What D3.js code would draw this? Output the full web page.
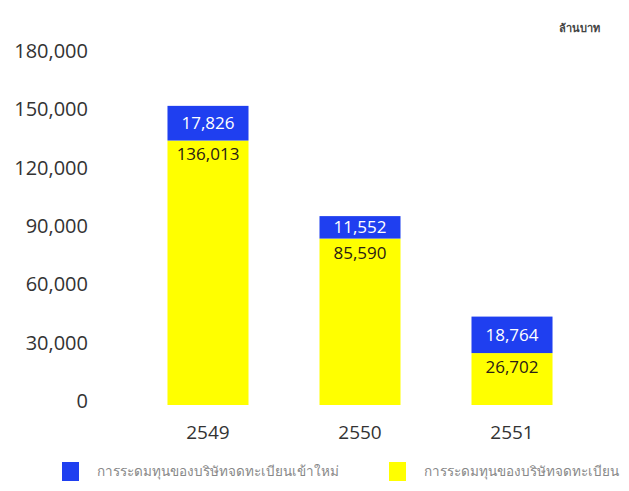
<!DOCTYPE html>
<html><head><meta charset="utf-8">
<script src="https://cdn.jsdelivr.net/npm/d3@7"></script>
<style>
html,body{margin:0;padding:0;background:#fff;}
svg{display:block;font-family:"Open Sans","Noto Sans",sans-serif;}
</style></head>
<body><svg id="c" width="629" height="491"></svg>
<script>
const years = ["2549","2550","2551"];
const listedValues = [136013, 85590, 26702];
const newListedValues = [17826, 11552, 18764];
const yTicks = [0, 30000, 60000, 90000, 120000, 150000, 180000];
const unitLabel = "ล้านบาท";
const legendNew = "การระดมทุนของบริษัทจดทะเบียนเข้าใหม่";
const legendListed = "การระดมทุนของบริษัทจดทะเบียน";

const blue = "#1f3ff0", yellow = "#ffff00";
const svg = d3.select("#c");
const fmt = d3.format(",");

const x = d3.scaleBand().domain(years).range([130, 590]).paddingInner(0.467).paddingOuter(0.2466);
const y = d3.scaleLinear().domain([0, 180000]).range([405, 55]);

// y axis labels
svg.append("g").selectAll("text").data(yTicks).join("text")
  .attr("x", 88).attr("y", d => y(d) - 4).attr("dy", "0.35em")
  .attr("text-anchor", "end").attr("font-size", 20).attr("fill", "#333")
  .text(d => fmt(d));

// yellow segments
svg.append("g").selectAll("rect").data(years).join("rect")
  .attr("x", d => x(d)).attr("width", x.bandwidth())
  .attr("y", (d,i) => y(listedValues[i])).attr("height", (d,i) => y(0) - y(listedValues[i]))
  .attr("fill", yellow);

// blue segments
svg.append("g").selectAll("rect").data(years).join("rect")
  .attr("x", d => x(d)).attr("width", x.bandwidth())
  .attr("y", (d,i) => y(listedValues[i] + newListedValues[i]))
  .attr("height", (d,i) => y(listedValues[i]) - y(listedValues[i] + newListedValues[i]))
  .attr("fill", blue);

// blue labels
svg.append("g").selectAll("text").data(years).join("text")
  .attr("x", d => x(d) + x.bandwidth()/2)
  .attr("y", (d,i) => (y(listedValues[i]) + y(listedValues[i] + newListedValues[i]))/2)
  .attr("dy", "0.35em").attr("text-anchor", "middle").attr("font-size", 17).attr("fill", "#fff")
  .text((d,i) => fmt(newListedValues[i]));

// yellow labels
svg.append("g").selectAll("text").data(years).join("text")
  .attr("x", d => x(d) + x.bandwidth()/2)
  .attr("y", (d,i) => y(listedValues[i]) + 14)
  .attr("dy", "0.35em").attr("text-anchor", "middle").attr("font-size", 17).attr("fill", "#2a2015")
  .text((d,i) => fmt(listedValues[i]));

// x axis labels
svg.append("g").selectAll("text").data(years).join("text")
  .attr("x", d => x(d) + x.bandwidth()/2).attr("y", 432).attr("dy", "0.35em")
  .attr("text-anchor", "middle").attr("font-size", 19).attr("fill", "#333")
  .text(d => d);

// unit
svg.append("text").attr("x", 600).attr("y", 28).attr("dy", "0.35em").attr("text-anchor", "end")
  .attr("font-size", 11).attr("font-weight", "bold").attr("fill", "#444").text(unitLabel);

// legend
const leg = [{c: blue, t: legendNew, x: 62}, {c: yellow, t: legendListed, x: 389}];
const lg = svg.append("g").selectAll("g").data(leg).join("g");
lg.append("rect").attr("x", d => d.x).attr("y", 462).attr("width", 17).attr("height", 19).attr("fill", d => d.c);
lg.append("text").attr("x", d => d.x + 35).attr("y", 471).attr("dy", "0.35em")
  .attr("font-size", 13.5).attr("fill", "#888").text(d => d.t);
</script></body></html>
